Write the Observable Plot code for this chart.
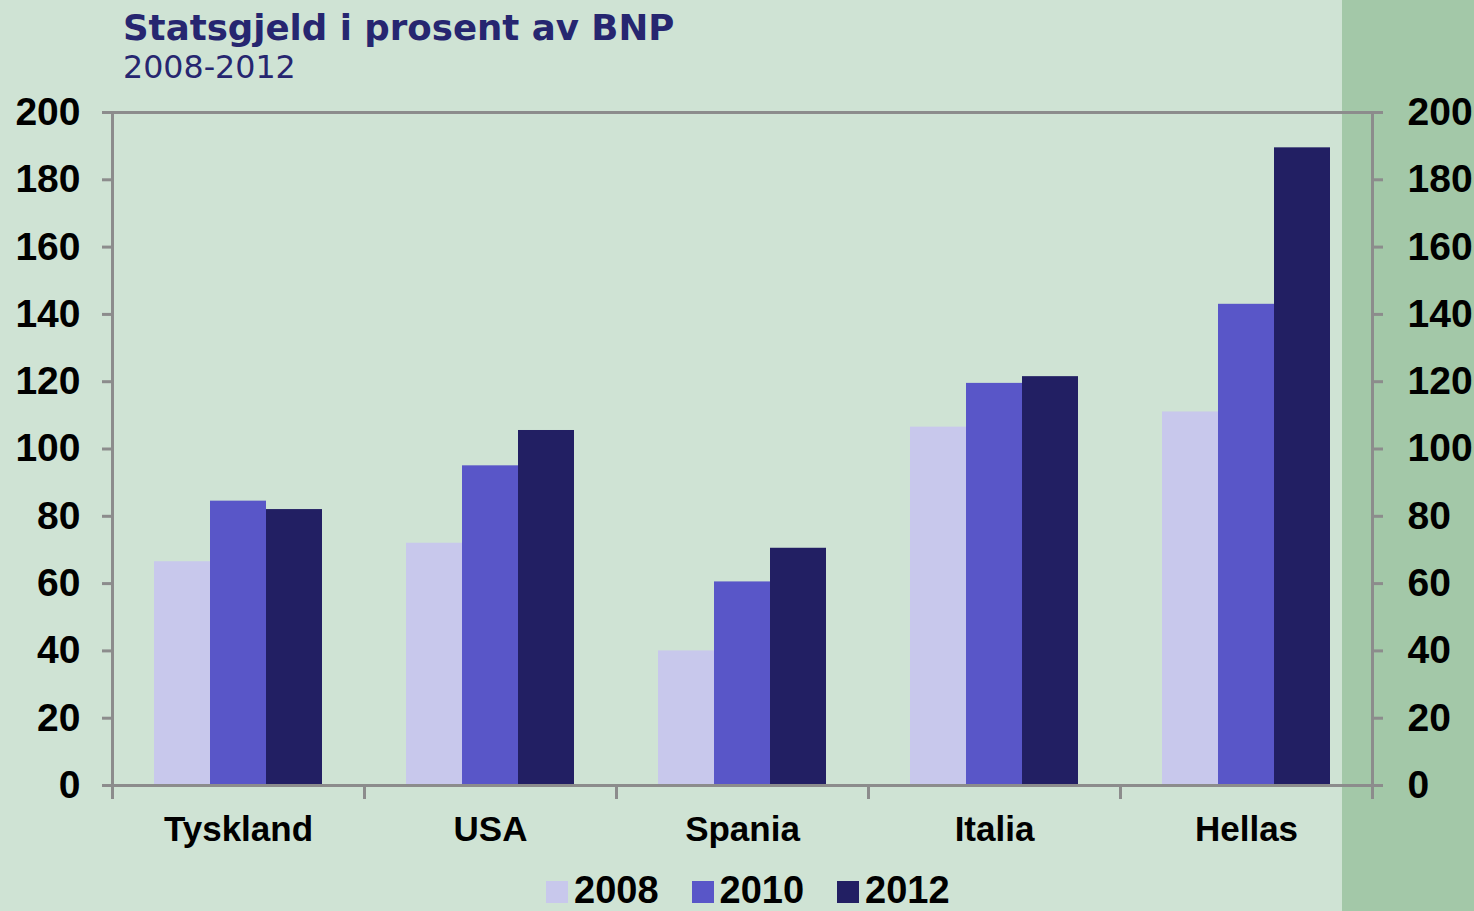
<!DOCTYPE html>
<html><head><meta charset="utf-8">
<script src="https://cdn.jsdelivr.net/npm/d3@7"></script>
<script src="https://cdn.jsdelivr.net/npm/@observablehq/plot@0.6"></script>
<style>
html,body{margin:0;padding:0;width:1474px;height:911px;overflow:hidden;}
body{position:relative;background:linear-gradient(to right,#cfe3d4 0px,#cfe3d4 1342px,#a3c8a8 1342px,#a3c8a8 1474px);}
#title{position:absolute;left:123px;top:10px;font:bold 35.6px/35px "DejaVu Sans",sans-serif;color:#262670;white-space:nowrap;}
#subtitle{position:absolute;left:123px;top:52px;font:31.7px/31px "DejaVu Sans",sans-serif;color:#262670;white-space:nowrap;}
#chart{position:absolute;left:0;top:95px;}
#legend{position:absolute;left:546px;top:875px;display:flex;font:bold 38px/30px "Liberation Sans",Arial,sans-serif;color:#000;white-space:nowrap;}
.item{display:flex;align-items:flex-end;margin-right:33px;}
.sw{width:22px;height:22px;margin-right:6px;margin-bottom:2px;}
</style></head><body>
<div id="title">Statsgjeld i prosent av BNP</div>
<div id="subtitle">2008-2012</div>
<div id="chart"></div>
<div id="legend"></div>
<script>
const countries = ["Tyskland", "USA", "Spania", "Italia", "Hellas"];
const years = ["2008", "2010", "2012"];
const debt2008 = [66.5, 72, 40, 106.5, 111];
const debt2010 = [84.5, 95, 60.5, 119.5, 143];
const debt2012 = [82, 105.5, 70.5, 121.5, 189.5];
const yearColors = ["#c8c8ec", "#5956c8", "#221f63"];
const yTicks = [0, 20, 40, 60, 80, 100, 120, 140, 160, 180, 200];

const series = [debt2008, debt2010, debt2012];
const data = [];
countries.forEach((c, i) => years.forEach((yr, j) => data.push({country: c, year: yr, value: series[j][i]})));

const axisStroke = "#8c8c8c";
const plot = Plot.plot({
  width: 1474, height: 780,
  marginTop: 17, marginBottom: 90, marginLeft: 112, marginRight: 102,
  style: {background: "transparent", fontFamily: "'Liberation Sans', Arial, sans-serif", color: "#000", overflow: "visible"},
  fx: {domain: countries, padding: 0, label: null},
  x: {domain: years, axis: null, paddingInner: 0, paddingOuter: 0.74},
  y: {domain: [0, 200], axis: null},
  color: {domain: years, range: yearColors},
  marks: [
    Plot.barY(data, {fx: "country", x: "year", y: "value", fill: "year", insetLeft: 0, insetRight: 0}),
    Plot.frame({facet: "super", stroke: axisStroke, strokeWidth: 3}),
    Plot.frame({anchor: "left", insetTop: 673, insetBottom: -12, stroke: axisStroke, strokeWidth: 3}),
    Plot.frame({anchor: "right", insetTop: 673, insetBottom: -12, stroke: axisStroke, strokeWidth: 3}),
    Plot.axisY({anchor: "left", ticks: yTicks, tickFormat: d => String(d), tickSize: 10, tickPadding: 22, fontSize: 39, fontWeight: "bold", stroke: axisStroke, strokeWidth: 3, fill: "#000", label: null}),
    Plot.axisY({anchor: "right", ticks: yTicks, tickFormat: d => String(d), tickSize: 10, tickPadding: 25, fontSize: 39, fontWeight: "bold", stroke: axisStroke, strokeWidth: 3, fill: "#000", label: null}),
    Plot.axisFx({anchor: "bottom", tickSize: 0, tickPadding: 31, fontSize: 35, fontWeight: "bold", fill: "#000", label: null})
  ]
});
document.getElementById("chart").appendChild(plot);

const legend = document.getElementById("legend");
years.forEach((yr, j) => {
  const item = document.createElement("div");
  item.className = "item";
  const sw = document.createElement("div");
  sw.className = "sw";
  sw.style.background = yearColors[j];
  const t = document.createElement("span");
  t.textContent = yr;
  item.appendChild(sw);
  item.appendChild(t);
  legend.appendChild(item);
});
</script>
</body></html>
